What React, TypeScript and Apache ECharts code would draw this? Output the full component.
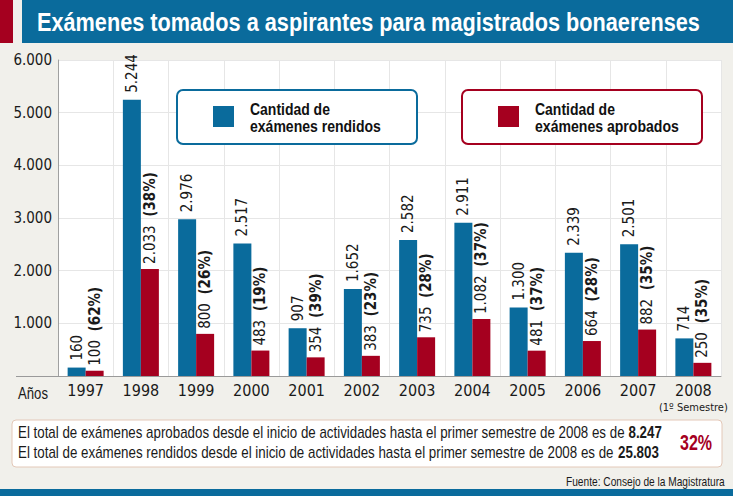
import React, { useEffect, useRef } from "react";
import * as echarts from "echarts";

const years = ["1997", "1998", "1999", "2000", "2001", "2002", "2003", "2004", "2005", "2006", "2007", "2008"];
const rendidos = [160, 5244, 2976, 2517, 907, 1652, 2582, 2911, 1300, 2339, 2501, 714];
const aprobados = [100, 2033, 800, 483, 354, 383, 735, 1082, 481, 664, 882, 250];
const porcentajes = [62, 38, 26, 19, 39, 23, 28, 37, 37, 28, 35, 35];
const porcentajeTotal = 32;
const yTicks = [0, 1000, 2000, 3000, 4000, 5000, 6000];

const BLUE = "#0a6b9c";
const RED = "#a5001f";
// condensed face for the axis and bar labels
const COND = "'DejaVu Sans Condensed', 'Liberation Sans', sans-serif";
// regular face, narrowed with scaleX for the free-standing texts
const SANS = "'Liberation Sans', Arial, sans-serif";

const fmt = (n: number) => String(n).replace(/\B(?=(\d{3})+(?!\d))/g, ".");
const sum = (a: number[]) => a.reduce((s, v) => s + v, 0);

let ctx: CanvasRenderingContext2D | null = null;
const measure = (text: string, font: string) => {
  if (!ctx) ctx = document.createElement("canvas").getContext("2d");
  ctx!.font = font;
  return ctx!.measureText(text).width;
};

// text narrowed horizontally so that it spans the given width
const narrowText = (
  x: number,
  y: number,
  width: number,
  size: number,
  parts: { t: string; bold?: boolean }[],
  fill: string
) => {
  const w = parts.reduce(
    (s, p) => s + measure(p.t, `${p.bold ? "bold " : ""}${size}px ${SANS}`),
    0
  );
  const text = parts.map((p) => (p.bold ? `{b|${p.t}}` : p.t)).join("");
  return {
    type: "text",
    x,
    y,
    z: 20,
    scaleX: width / w,
    style: {
      text,
      font: `${size}px ${SANS}`,
      fill,
      verticalAlign: "middle",
      rich: { b: { fontWeight: "bold", fontSize: size, fontFamily: SANS, fill } },
    },
  };
};

export default function App() {
  const ref = useRef<HTMLDivElement>(null);

  useEffect(() => {
    document.body.style.margin = "0";
    const chart = echarts.init(ref.current!, null, { renderer: "svg" });

    const legendBox = (x: number, color: string, line2: string, w2: number) => [
      {
        type: "rect",
        z: 10,
        shape: { x, y: 90, width: 240, height: 54, r: 6 },
        style: { fill: "#ffffff", stroke: color, lineWidth: 2 },
      },
      {
        type: "rect",
        z: 20,
        shape: { x: x + 36, y: 106, width: 21, height: 21 },
        style: { fill: color },
      },
      narrowText(x + 73, 109, 80, 17, [{ t: "Cantidad de", bold: true }], "#111"),
      narrowText(x + 73, 126, w2, 17, [{ t: line2, bold: true }], "#111"),
    ];

    const totalLine = (y: number, label: string, total: number, width: number) =>
      narrowText(
        18,
        y,
        width,
        16,
        [
          { t: `El total de exámenes ${label} desde el inicio de actividades hasta el primer semestre de 2008 es de ` },
          { t: fmt(total), bold: true },
        ],
        "#1a1a1a"
      );

    chart.setOption({
      animation: false,
      backgroundColor: "#f1f0eb",
      textStyle: { fontFamily: COND },
      grid: {
        left: 58,
        right: 12,
        top: 60,
        bottom: 120,
        show: true,
        backgroundColor: "#ffffff",
        borderWidth: 0,
      },
      xAxis: {
        type: "category",
        data: years,
        axisTick: { show: false },
        axisLine: { lineStyle: { color: "#9a9a9a", width: 1 } },
        splitLine: { show: true, lineStyle: { color: "#e6e6e6" } },
        axisLabel: {
          interval: 0,
          margin: 6,
          color: "#1a1a1a",
          fontSize: 16,
          fontFamily: COND,
          formatter: (v: string) => (v === "2008" ? `${v}\n{s|(1º Semestre)}` : v),
          rich: {
            s: { fontSize: 11, fontFamily: COND, color: "#1a1a1a", lineHeight: 16, padding: [2, 0, 0, 0] },
          },
        },
      },
      yAxis: {
        type: "value",
        min: 0,
        max: 6000,
        interval: 1000,
        axisLine: { show: true, lineStyle: { color: "#a0a0a0" } },
        splitLine: { lineStyle: { color: "#e6e6e6" } },
        axisLabel: {
          margin: 6,
          padding: [6, 0, 0, 0],
          color: "#1a1a1a",
          fontSize: 15,
          fontFamily: COND,
          formatter: (v: number) => (yTicks.includes(v) && v > 0 ? fmt(v) : ""),
        },
      },
      series: [
        {
          type: "bar",
          data: rendidos,
          barWidth: 18,
          barGap: "0%",
          itemStyle: { color: BLUE },
          label: {
            show: true,
            position: "top",
            rotate: 90,
            align: "left",
            verticalAlign: "middle",
            distance: 7,
            color: "#1a1a1a",
            fontSize: 15,
            fontFamily: COND,
            formatter: (p: any) => fmt(p.value),
          },
        },
        {
          type: "bar",
          data: aprobados,
          barWidth: 18,
          itemStyle: { color: RED },
          label: {
            show: true,
            position: "top",
            rotate: 90,
            align: "left",
            verticalAlign: "middle",
            distance: 5,
            color: "#1a1a1a",
            fontSize: 15,
            fontFamily: COND,
            formatter: (p: any) => `${fmt(p.value)}  {b|(${porcentajes[p.dataIndex]}%)}`,
            rich: {
              b: { fontWeight: "bold", fontSize: 15, fontFamily: COND, color: "#1a1a1a" },
            },
          },
        },
      ],
      graphic: [
        // heading band
        { type: "rect", shape: { x: 0, y: 0, width: 13, height: 43 }, style: { fill: RED } },
        { type: "rect", shape: { x: 22, y: 0, width: 711, height: 43 }, style: { fill: BLUE } },
        narrowText(
          37,
          22,
          663,
          25,
          [{ t: "Exámenes tomados a aspirantes para magistrados bonaerenses", bold: true }],
          "#ffffff"
        ),
        // baseline continues under the axis labels
        { type: "line", shape: { x1: 16, y1: 376.5, x2: 58, y2: 376.5 }, style: { stroke: "#9a9a9a", lineWidth: 1 } },
        narrowText(18, 393, 30, 17, [{ t: "Años" }], "#1a1a1a"),
        ...legendBox(177, BLUE, "exámenes rendidos", 131),
        ...legendBox(462, RED, "exámenes aprobados", 144),
        // totals box
        {
          type: "rect",
          shape: { x: 12, y: 420, width: 710, height: 47, r: 4 },
          style: { fill: "#ffffff", stroke: "#e3c8b8", lineWidth: 1 },
        },
        totalLine(433, "aprobados", sum(aprobados), 644),
        totalLine(453, "rendidos", sum(rendidos), 641),
        narrowText(680, 443, 32, 22, [{ t: `${porcentajeTotal}%`, bold: true }], RED),
        narrowText(566, 481, 159, 13, [{ t: "Fuente: Consejo de la Magistratura" }], "#1a1a1a"),
        { type: "rect", shape: { x: 0, y: 489, width: 733, height: 7 }, style: { fill: BLUE } },
      ],
    });

    return () => chart.dispose();
  }, []);

  return <div ref={ref} style={{ width: 733, height: 496 }} />;
}
